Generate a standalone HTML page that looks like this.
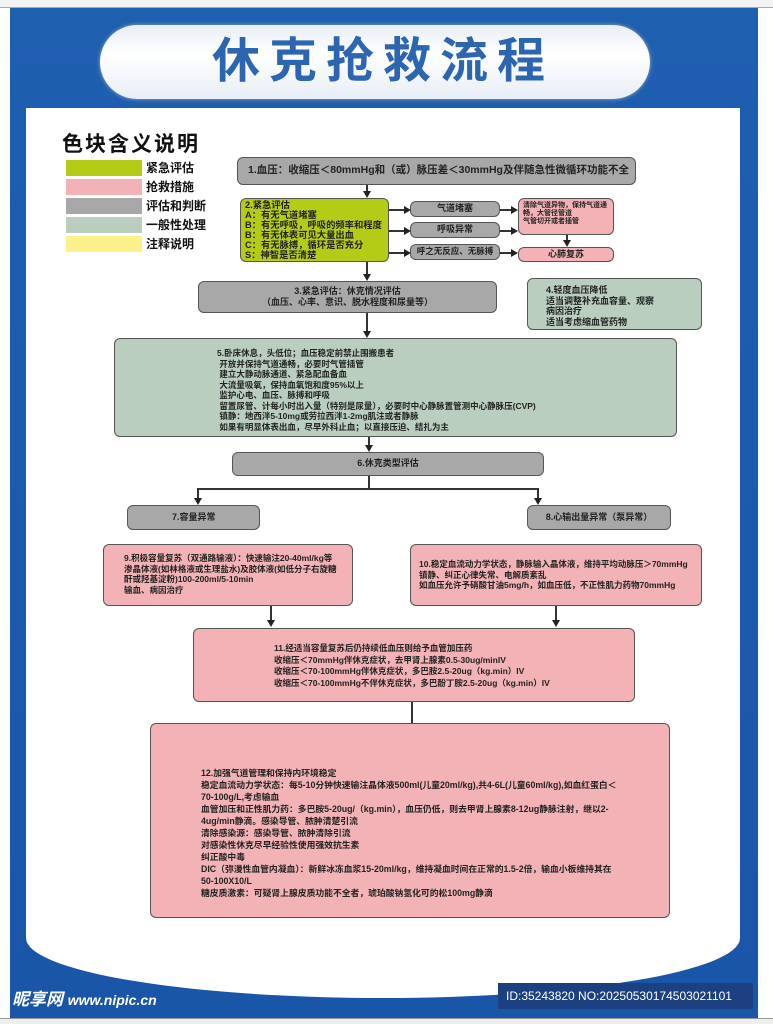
<!DOCTYPE html>
<html><head><meta charset="utf-8"><style>
body{margin:0;width:773px;height:1024px;position:relative;overflow:hidden;background:#fff;font-family:"Liberation Sans","Noto Sans CJK SC",sans-serif;}
.a{position:absolute;box-sizing:border-box}
.b{position:absolute;box-sizing:border-box;border:1.5px solid #555;border-radius:6px;font-weight:bold;color:#222;font-size:9px;line-height:11px}
.g{background:#a8a8a8}.p{background:#f2b2b6}.s{background:#b9cebf}.l{background:#b4cc16}
.v{position:absolute;width:1.5px;background:#333}
.h{position:absolute;height:1.5px;background:#333}
.ad{position:absolute;width:0;height:0;border-left:4px solid transparent;border-right:4px solid transparent;border-top:7px solid #222}
.ar{position:absolute;width:0;height:0;border-top:4px solid transparent;border-bottom:4px solid transparent;border-left:7px solid #222}
</style></head><body>
<div class="a" style="left:0;top:0;width:773px;height:8px;background:#f4f4f4;border-bottom:1px solid #aaa"></div>
<div class="a" style="left:10px;top:8px;width:748px;height:1010px;background:linear-gradient(#1f5fb0,#1a56a8)"></div>
<div class="a" style="left:26px;top:108px;width:714px;height:890px;background:#fff;border-radius:0 0 50% 50%/0 0 60px 60px"></div>
<div class="a" style="left:100px;top:25px;width:550px;height:74px;border-radius:37px;background:linear-gradient(#e8eef6,#fff 40%,#e8eef6);box-shadow:0 0 4px #9ab"></div>
<div class="a" style="left:108px;top:30px;width:550px;text-align:center;font-size:48px;font-weight:bold;color:#2c66b0;letter-spacing:9px;line-height:64px">休克抢救流程</div>
<div class="a" style="left:62px;top:128px;font-size:21px;font-weight:bold;color:#111;letter-spacing:2px">色块含义说明</div>
<div class="a" style="left:66px;top:160px;width:76px;height:16px;background:#b4cc16"></div>
<div class="a" style="left:66px;top:179px;width:76px;height:16px;background:#f2b2b6"></div>
<div class="a" style="left:66px;top:198px;width:76px;height:16px;background:#a8a8a8"></div>
<div class="a" style="left:66px;top:217px;width:76px;height:16px;background:#b9cebf"></div>
<div class="a" style="left:66px;top:236px;width:76px;height:16px;background:#fbf08a"></div>
<div class="a" style="left:146px;top:159px;font-size:12px;line-height:19px;font-weight:bold;color:#111">紧急评估<br>抢救措施<br>评估和判断<br>一般性处理<br>注释说明</div>

<div class="b g" style="left:237px;top:157px;width:399px;height:28px;font-size:10.5px;line-height:25px;padding-left:10px;font-weight:bold;white-space:nowrap;overflow:hidden">1.血压：收缩压＜80mmHg和（或）脉压差＜30mmHg及伴随急性微循环功能不全</div>
<div class="v" style="left:366px;top:185px;height:8px"></div><div class="ad" style="left:363px;top:191px"></div>
<div class="b l" style="left:240px;top:198px;width:149px;height:64px;padding:1px 4px;font-size:9.3px;line-height:10px;font-weight:bold;white-space:nowrap;overflow:hidden">2.紧急评估<br>A：有无气道堵塞<br>B：有无呼吸，呼吸的频率和程度<br>B：有无体表可见大量出血<br>C：有无脉搏，循环是否充分<br>S：神智是否清楚</div>
<div class="b g" style="left:410px;top:201px;width:90px;height:16px;text-align:center;line-height:13px">气道堵塞</div>
<div class="b g" style="left:410px;top:222px;width:90px;height:16px;text-align:center;line-height:13px">呼吸异常</div>
<div class="b g" style="left:410px;top:244px;width:90px;height:16px;text-align:center;line-height:13px;font-size:8.5px">呼之无反应、无脉搏</div>
<div class="h" style="left:389px;top:209px;width:16px"></div><div class="ar" style="left:404px;top:206px"></div>
<div class="h" style="left:389px;top:230px;width:16px"></div><div class="ar" style="left:404px;top:227px"></div>
<div class="h" style="left:389px;top:252px;width:16px"></div><div class="ar" style="left:404px;top:249px"></div>
<div class="h" style="left:500px;top:209px;width:12px"></div><div class="ar" style="left:511px;top:206px"></div>
<div class="h" style="left:500px;top:230px;width:12px"></div><div class="ar" style="left:511px;top:227px"></div>
<div class="h" style="left:500px;top:252px;width:12px"></div><div class="ar" style="left:511px;top:249px"></div>
<div class="b p" style="left:518px;top:198px;width:96px;height:37px;padding:3px 4px;font-size:7px;line-height:8px">清除气道异物，保持气道通畅，大管径管道<br>气管切开或者插管</div>
<div class="v" style="left:566px;top:235px;height:6px"></div><div class="ad" style="left:563px;top:240px"></div>
<div class="b p" style="left:518px;top:247px;width:96px;height:15px;text-align:center;line-height:12px">心肺复苏</div>
<div class="v" style="left:366px;top:262px;height:13px"></div><div class="ad" style="left:363px;top:274px"></div>

<div class="b g" style="left:198px;top:281px;width:299px;height:32px;text-align:center;padding-top:4px">3.紧急评估：休克情况评估<br>（血压、心率、意识、脱水程度和尿量等）</div>
<div class="b s" style="left:527px;top:278px;width:175px;height:52px;padding:6px 0 0 18px;line-height:10.5px">4.轻度血压降低<br>适当调整补充血容量、观察<br>病因治疗<br>适当考虑缩血管药物</div>
<div class="v" style="left:366px;top:313px;height:19px"></div><div class="ad" style="left:363px;top:331px"></div>

<div class="b s" style="left:114px;top:338px;width:563px;height:99px;padding:9px 0 0 102px;font-size:8.5px;line-height:10.5px">5.卧床休息，头低位；血压稳定前禁止围搬患者<br>&nbsp;开放并保持气道通畅，必要时气管插管<br>&nbsp;建立大静动脉通道、紧急配血备血<br>&nbsp;大流量吸氧，保持血氧饱和度95%以上<br>&nbsp;监护心电、血压、脉搏和呼吸<br>&nbsp;留置尿管、计每小时出入量（特别是尿量），必要时中心静脉置管测中心静脉压(CVP)<br>&nbsp;镇静：地西泮5-10mg或劳拉西泮1-2mg肌注或者静脉<br>&nbsp;如果有明显体表出血，尽早外科止血；以直接压迫、结扎为主</div>
<div class="v" style="left:368px;top:437px;height:9px"></div><div class="ad" style="left:365px;top:445px"></div>
<div class="b g" style="left:232px;top:452px;width:312px;height:24px;text-align:center;line-height:21px">6.休克类型评估</div>
<div class="v" style="left:368px;top:476px;height:13px"></div>
<div class="h" style="left:197px;top:488px;width:341px"></div>
<div class="v" style="left:197px;top:488px;height:11px"></div><div class="ad" style="left:194px;top:498px"></div>
<div class="v" style="left:537px;top:488px;height:11px"></div><div class="ad" style="left:534px;top:498px"></div>
<div class="b g" style="left:127px;top:505px;width:133px;height:25px;padding-left:44px;line-height:22px">7.容量异常</div>
<div class="b g" style="left:527px;top:505px;width:144px;height:25px;text-align:center;line-height:22px">8.心输出量异常（泵异常）</div>

<div class="b p" style="left:103px;top:544px;width:250px;height:62px;padding:8px 12px 0 20px;font-size:8.5px;line-height:10.5px">9.积极容量复苏（双通路输液）：快速输注20-40ml/kg等渗晶体液(如林格液或生理盐水)及胶体液(如低分子右旋糖酐或羟基淀粉)100-200ml/5-10min<br>输血、病因治疗</div>
<div class="b p" style="left:410px;top:544px;width:292px;height:62px;padding:14px 0 0 8px;font-size:8.5px;line-height:10.5px">10.稳定血流动力学状态，静脉输入晶体液，维持平均动脉压＞70mmHg<br>镇静、纠正心律失常、电解质紊乱<br>如血压允许予硝酸甘油5mg/h，如血压低，不正性肌力药物70mmHg</div>
<div class="v" style="left:270px;top:606px;height:15px"></div><div class="ad" style="left:267px;top:620px"></div>
<div class="v" style="left:555px;top:606px;height:15px"></div><div class="ad" style="left:552px;top:620px"></div>
<div class="b p" style="left:193px;top:628px;width:442px;height:74px;padding:14px 0 0 80px;font-size:8.5px;line-height:11.5px">11.经适当容量复苏后仍持续低血压则给予血管加压药<br>收缩压＜70mmHg伴休克症状，去甲肾上腺素0.5-30ug/minIV<br>收缩压＜70-100mmHg伴休克症状，多巴胺2.5-20ug（kg.min）IV<br>收缩压＜70-100mmHg不伴休克症状，多巴酚丁胺2.5-20ug（kg.min）IV</div>
<div class="v" style="left:411px;top:702px;height:21px"></div>
<div class="b p" style="left:150px;top:723px;width:520px;height:195px;padding:43px 48px 0 50px;font-size:8.8px;line-height:12px;font-weight:bold">12.加强气道管理和保持内环境稳定<br>稳定血流动力学状态：每5-10分钟快速输注晶体液500ml(儿童20ml/kg),共4-6L(儿童60ml/kg),如血红蛋白＜70-100g/L,考虑输血<br>血管加压和正性肌力药：多巴胺5-20ug/（kg.min），血压仍低，则去甲肾上腺素8-12ug静脉注射，继以2-4ug/min静滴。感染导管、脓肿清楚引流<br>清除感染源：感染导管、脓肿清除引流<br>对感染性休克尽早经验性使用强效抗生素<br>纠正酸中毒<br>DIC（弥漫性血管内凝血）：新鲜冰冻血浆15-20ml/kg，维持凝血时间在正常的1.5-2倍，输血小板维持其在50-100X10/L<br>糖皮质激素：可疑肾上腺皮质功能不全者，琥珀酸钠氢化可的松100mg静滴</div>

<div class="a" style="left:12px;top:985px;font-size:17px;font-weight:bold;font-style:italic;color:#fff">昵享网 <span style="font-size:14px">www.nipic.cn</span></div>
<div class="a" style="left:498px;top:983px;width:255px;height:26px;background:#1d4180;color:#fff;font-size:12px;line-height:26px;padding-left:8px;font-family:'Liberation Sans Narrow','Liberation Sans',sans-serif">ID:35243820 NO:20250530174503021101</div>
<div class="a" style="left:0;top:1018px;width:773px;height:6px;background:#eee;border-top:1px solid #999"></div>
</body></html>
